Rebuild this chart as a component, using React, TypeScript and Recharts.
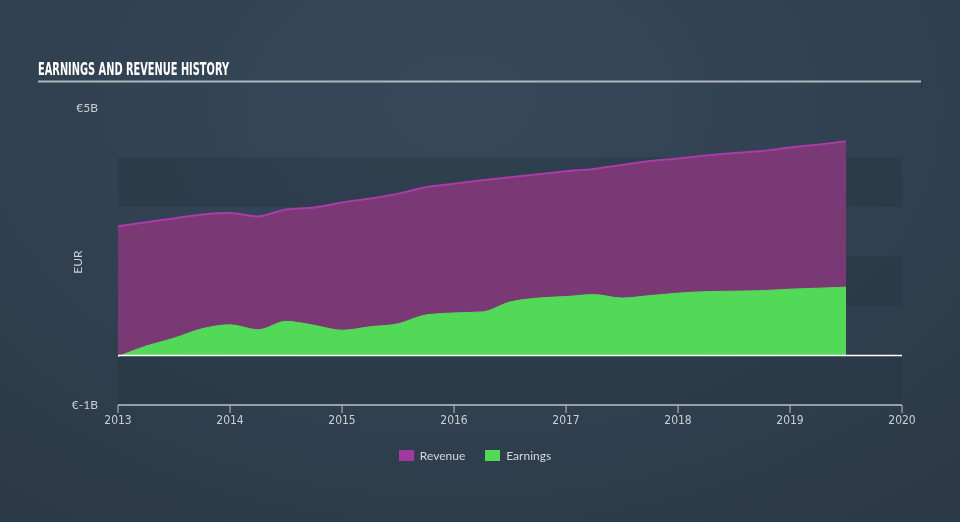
import React from "react";
import {
  AreaChart,
  Area,
  XAxis,
  YAxis,
  ReferenceArea,
  ReferenceLine,
} from "recharts";

// quarter points, in fractional years
const quarters = [
  2013.0, 2013.25, 2013.5, 2013.75, 2014.0, 2014.25, 2014.5, 2014.75, 2015.0,
  2015.25, 2015.5, 2015.75, 2016.0, 2016.25, 2016.5, 2016.75, 2017.0, 2017.25,
  2017.5, 2017.75, 2018.0, 2018.25, 2018.5, 2018.75, 2019.0, 2019.25, 2019.5,
];

// EUR billions
const revenue = [
  2.61, 2.69, 2.77, 2.85, 2.88, 2.81, 2.95, 2.99, 3.09, 3.17, 3.27, 3.4, 3.47,
  3.54, 3.6, 3.66, 3.72, 3.77, 3.85, 3.93, 3.98, 4.04, 4.09, 4.13, 4.2, 4.26,
  4.33,
];

const earnings = [
  -0.02, 0.19, 0.35, 0.54, 0.62, 0.52, 0.69, 0.61, 0.51, 0.58, 0.64, 0.82, 0.86,
  0.88, 1.08, 1.16, 1.19, 1.23, 1.16, 1.21, 1.26, 1.29, 1.3, 1.31, 1.34, 1.36,
  1.38,
];

const yearTicks = [2013, 2014, 2015, 2016, 2017, 2018, 2019, 2020];
const valueTicks = [-1, 5];
const darkBands: [number, number][] = [
  [-1, 0],
  [1, 2],
  [3, 4],
];

const legendItems = [
  { name: "Revenue", color: "#a3399f" },
  { name: "Earnings", color: "#53d958" },
];

const data = quarters.map((t, i) => ({
  t,
  revenue: revenue[i],
  earnings: earnings[i],
}));

const W = 960;
const H = 522;
const PLOT_TOP = 108;
const PLOT_BOTTOM = 405;
const X_AXIS_H = 30;
// where zero sits inside the plot, for the green/red split
const zeroOffset = (5 - 0) / (5 - -1);

const axisText = "#c9d0d6";
const font = "Lato, 'Open Sans', sans-serif";

function ChartLegend() {
  return (
    <div
      style={{
        position: "absolute",
        top: 448,
        left: -5,
        width: W,
        display: "flex",
        justifyContent: "center",
        gap: 20,
      }}
    >
      {legendItems.map((it) => (
        <div key={it.name} style={{ display: "flex", alignItems: "center" }}>
          <span
            style={{
              width: 15,
              height: 11,
              background: it.color,
              display: "inline-block",
              marginRight: 6,
            }}
          />
          <span style={{ color: "#d3d8dc", fontSize: 12, fontFamily: font }}>
            {it.name}
          </span>
        </div>
      ))}
    </div>
  );
}

export default function App() {
  return (
    <div
      style={{
        position: "fixed",
        left: 0,
        top: 0,
        width: W,
        height: H,
        background:
          "radial-gradient(ellipse 75% 95% at 48% 20%, #36485a 0%, #314152 55%, #2c3a47 100%)",
        overflow: "hidden",
      }}
    >
      <AreaChart
        width={W}
        height={H}
        data={data}
        margin={{ top: PLOT_TOP, right: 58, bottom: H - PLOT_BOTTOM - X_AXIS_H, left: 0 }}
        style={{ position: "absolute", left: 0, top: 0 }}
      >
        <defs>
          <linearGradient
            id="earnFill"
            x1="0"
            y1={PLOT_TOP}
            x2="0"
            y2={PLOT_BOTTOM}
            gradientUnits="userSpaceOnUse"
          >
            <stop offset={zeroOffset} stopColor="#53d958" />
            <stop offset={zeroOffset} stopColor="#e8433d" />
          </linearGradient>
        </defs>
        {darkBands.map(([a, b]) => (
          <ReferenceArea
            key={a}
            x1={2013}
            x2={2020}
            y1={a}
            y2={b}
            fill="#263441"
            fillOpacity={0.4}
            stroke="none"
            ifOverflow="visible"
          />
        ))}
        <XAxis
          dataKey="t"
          type="number"
          domain={[2013, 2020]}
          ticks={yearTicks}
          height={X_AXIS_H}
          stroke="#b9c2ca"
          tickSize={8}
          tick={{ fill: axisText, fontSize: 12, fontFamily: "'DejaVu Sans Condensed', sans-serif" }}
          tickLine={{ stroke: "#b9c2ca" }}
          axisLine={{ stroke: "#b9c2ca", strokeWidth: 1.5 }}
          interval={0}
        />
        <YAxis
          type="number"
          domain={[-1, 5]}
          ticks={valueTicks}
          width={118}
          axisLine={false}
          tickLine={false}
          tickMargin={14}
          tickFormatter={(v: number) => `€${v}B`}
          tick={{ fill: axisText, fontSize: 12, fontFamily: font }}
        />
        <Area
          type="monotone"
          dataKey="revenue"
          name="Revenue"
          stroke="#ab3ba6"
          strokeWidth={2}
          fill="#7a3975"
          fillOpacity={1}
          baseValue={0}
          isAnimationActive={false}
        />
        <Area
          type="monotone"
          dataKey="earnings"
          name="Earnings"
          stroke="#53d958"
          strokeWidth={1}
          fill="url(#earnFill)"
          fillOpacity={1}
          baseValue={0}
          isAnimationActive={false}
        />
        <ReferenceLine y={0} stroke="#ffffff" strokeWidth={1.5} />
      </AreaChart>

      {/* title, rule and axis unit drawn over the chart */}
      <svg
        width={W}
        height={H}
        style={{ position: "absolute", left: 0, top: 0, pointerEvents: "none" }}
      >
        <text
          x={38}
          y={75}
          fill="#ffffff"
          fontSize={18}
          fontWeight={700}
          fontFamily="'DejaVu Sans Condensed', 'Liberation Sans Narrow', sans-serif"
          textLength={191}
          lengthAdjust="spacingAndGlyphs"
        >
          EARNINGS AND REVENUE HISTORY
        </text>
        <line x1={38} x2={921} y1={81.5} y2={81.5} stroke="#aeb6be" strokeWidth={2} />
        <text
          x={82}
          y={262}
          transform="rotate(-90 82 262)"
          textAnchor="middle"
          fill={axisText}
          fontSize={12}
          fontFamily={font}
        >
          EUR
        </text>
      </svg>
      <ChartLegend />
    </div>
  );
}
